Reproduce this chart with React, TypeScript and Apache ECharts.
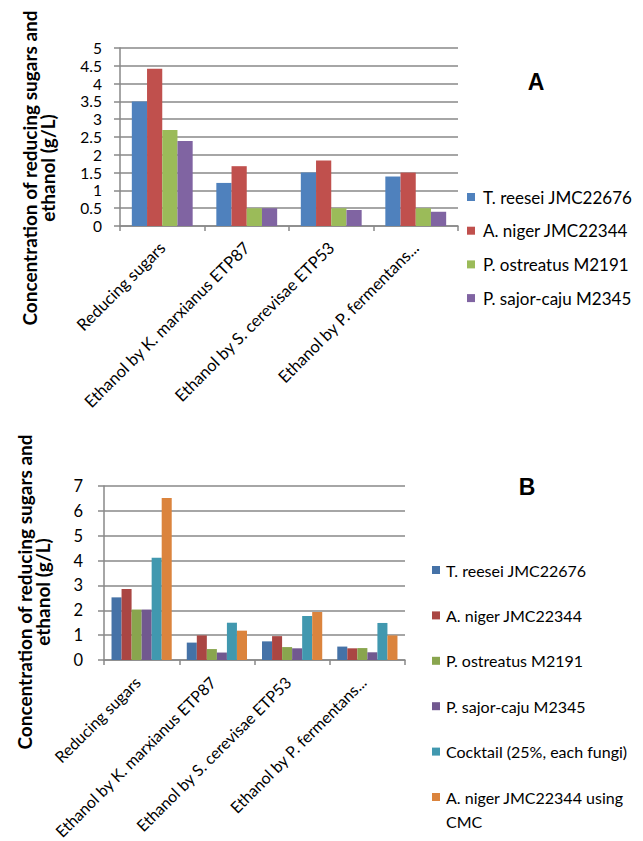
import React, { useEffect, useRef } from "react";
import * as echarts from "echarts";

const categories = [
  "Reducing sugars",
  "Ethanol by K. marxianus ETP87",
  "Ethanol by S. cerevisae ETP53",
  "Ethanol by P. fermentans...",
];

const namesA = [
  "T. reesei JMC22676",
  "A. niger JMC22344",
  "P. ostreatus M2191",
  "P. sajor-caju M2345",
];
const treeseiA = [3.5, 1.21, 1.5, 1.39];
const nigerA = [4.42, 1.68, 1.84, 1.5];
const ostreatusA = [2.7, 0.5, 0.5, 0.5];
const sajorA = [2.39, 0.5, 0.45, 0.4];
const valuesA = [treeseiA, nigerA, ostreatusA, sajorA];
const colorsA = ["#4F81BD", "#C0504D", "#9BBB59", "#8064A2"];

const namesB = [
  "T. reesei JMC22676",
  "A. niger JMC22344",
  "P. ostreatus M2191",
  "P. sajor-caju M2345",
  "Cocktail (25%, each fungi)",
  "A. niger JMC22344 using CMC",
];
const legendLinesB = [
  ["T. reesei JMC22676"],
  ["A. niger JMC22344"],
  ["P. ostreatus M2191"],
  ["P. sajor-caju M2345"],
  ["Cocktail (25%, each fungi)"],
  ["A. niger JMC22344 using", "CMC"],
];
const treeseiB = [2.52, 0.7, 0.75, 0.54];
const nigerB = [2.86, 0.99, 0.96, 0.47];
const ostreatusB = [2.03, 0.44, 0.52, 0.48];
const sajorB = [2.03, 0.3, 0.47, 0.31];
const cocktailB = [4.11, 1.5, 1.77, 1.49];
const cmcB = [6.52, 1.18, 1.93, 0.99];
const valuesB = [treeseiB, nigerB, ostreatusB, sajorB, cocktailB, cmcB];
const colorsB = ["#4572A7", "#AA4643", "#89A54E", "#71588F", "#4198AF", "#DB843D"];

const yTitle = "Concentration of reducing sugars and\nethanol (g/L)";
const FONT = "Lato, 'Open Sans', sans-serif";
const GRID = "#898989";

function baseAxes(
  yMax: number,
  yInterval: number,
  labelMarginY: number,
  labelMarginX: number,
  yFont: number,
  xFont: number,
  xPadRight: number
) {
  return {
    xAxis: {
      type: "category",
      data: categories,
      axisLine: { lineStyle: { color: GRID, width: 1.5 } },
      axisTick: { show: true, length: 5, lineStyle: { color: GRID, width: 1.5 } },
      axisLabel: {
        rotate: 45,
        interval: 0,
        margin: labelMarginX,
        fontSize: xFont,
        fontFamily: FONT,
        color: "#000",
        padding: [0, xPadRight, 0, 0],
      },
    },
    yAxis: {
      type: "value",
      min: 0,
      max: yMax,
      interval: yInterval,
      axisLine: { show: true, lineStyle: { color: GRID, width: 1.5 } },
      axisTick: { show: true, length: 6, lineStyle: { color: GRID, width: 1.5 } },
      axisLabel: {
        margin: labelMarginY,
        fontSize: yFont,
        lineHeight: yFont,
        fontFamily: FONT,
        color: "#000",
      },
      splitLine: { show: true, lineStyle: { color: GRID, width: 1.5 } },
    },
  };
}

export default function App() {
  const refA = useRef<HTMLDivElement>(null);
  const refB = useRef<HTMLDivElement>(null);

  useEffect(() => {
    if (!refA.current || !refB.current) return;
    const chartA = echarts.init(refA.current, undefined, { renderer: "svg" });
    const chartB = echarts.init(refB.current, undefined, { renderer: "svg" });

    const axesA = baseAxes(5, 0.5, 18, 19, 15.5, 16.5, 0);
    chartA.setOption({
      animation: false,
      backgroundColor: "#fff",
      grid: { left: 120, top: 48, width: 338, height: 178, outerBoundsMode: "none" },
      xAxis: axesA.xAxis,
      yAxis: axesA.yAxis,
      legend: {
        orient: "vertical",
        left: 467,
        top: 188,
        padding: 0,
        itemWidth: 8,
        itemHeight: 8,
        itemGap: 15.7,
        icon: "rect",
        selectedMode: false,
        data: namesA,
        textStyle: {
          fontSize: 17,
          lineHeight: 18,
          fontFamily: FONT,
          color: "#000",
          padding: [0, 0, 0, 3],
        },
      },
      series: namesA.map((n, i) => ({
        name: n,
        type: "bar",
        data: valuesA[i],
        itemStyle: { color: colorsA[i] },
        barGap: "0%",
        barCategoryGap: "28%",
      })),
      graphic: [
        {
          type: "text",
          x: 38,
          y: 168,
          rotation: Math.PI / 2,
          style: {
            text: yTitle,
            fontSize: 19,
            fontWeight: "bold",
            fontFamily: FONT,
            lineHeight: 18,
            fill: "#000",
            align: "center",
            verticalAlign: "middle",
          },
        },
        {
          type: "text",
          x: 536,
          y: 82,
          style: {
            text: "A",
            fontSize: 23,
            fontWeight: "bold",
            fontFamily: "'Liberation Sans', Arial, sans-serif",
            fill: "#000",
            align: "center",
            verticalAlign: "middle",
          },
        },
      ],
    });

    const axesB = baseAxes(7, 1, 21, 15, 16.5, 16, 6);
    const rich: Record<string, any> = {
      t: {
        fontSize: 16,
        lineHeight: 24,
        fontFamily: FONT,
        color: "#000",
        padding: [0, 0, 0, 6],
        verticalAlign: "middle",
      },
      ind: { width: 8, height: 8, verticalAlign: "middle" },
    };
    colorsB.forEach((c, i) => {
      rich["s" + i] = { width: 8, height: 8, backgroundColor: c, verticalAlign: "middle" };
    });

    chartB.setOption({
      animation: false,
      backgroundColor: "#fff",
      grid: { left: 104, top: 66, width: 301, height: 174, outerBoundsMode: "none" },
      xAxis: axesB.xAxis,
      yAxis: axesB.yAxis,
      legend: {
        orient: "vertical",
        left: 427,
        top: 138,
        height: 420,
        padding: 0,
        itemWidth: 0,
        itemHeight: 0,
        itemGap: 21.4,
        selectedMode: false,
        data: namesB,
        formatter: (name: string) => {
          const i = namesB.indexOf(name);
          const lines = legendLinesB[i];
          let s = "{s" + i + "| }{t|" + lines[0] + "}";
          for (let k = 1; k < lines.length; k++) s += "\n{ind| }{t|" + lines[k] + "}";
          return s;
        },
        textStyle: { fontSize: 16, lineHeight: 24, fontFamily: FONT, color: "#000", rich },
      },
      series: namesB.map((n, i) => ({
        name: n,
        type: "bar",
        data: valuesB[i],
        itemStyle: { color: colorsB[i] },
        barGap: "0%",
        barCategoryGap: "20%",
      })),
      graphic: [
        {
          type: "text",
          x: 33,
          y: 172,
          rotation: Math.PI / 2,
          style: {
            text: yTitle,
            fontSize: 19,
            fontWeight: "bold",
            fontFamily: FONT,
            lineHeight: 18,
            fill: "#000",
            align: "center",
            verticalAlign: "middle",
          },
        },
        {
          type: "text",
          x: 527,
          y: 67,
          style: {
            text: "B",
            fontSize: 23,
            fontWeight: "bold",
            fontFamily: "'Liberation Sans', Arial, sans-serif",
            fill: "#000",
            align: "center",
            verticalAlign: "middle",
          },
        },
      ],
    });

    return () => {
      chartA.dispose();
      chartB.dispose();
    };
  }, []);

  return (
    <div style={{ position: "absolute", left: 0, top: 0, width: 643, height: 841, background: "#fff" }}>
      <div ref={refA} style={{ position: "absolute", left: 0, top: 0, width: 643, height: 420 }} />
      <div ref={refB} style={{ position: "absolute", left: 0, top: 420, width: 643, height: 421 }} />
    </div>
  );
}
